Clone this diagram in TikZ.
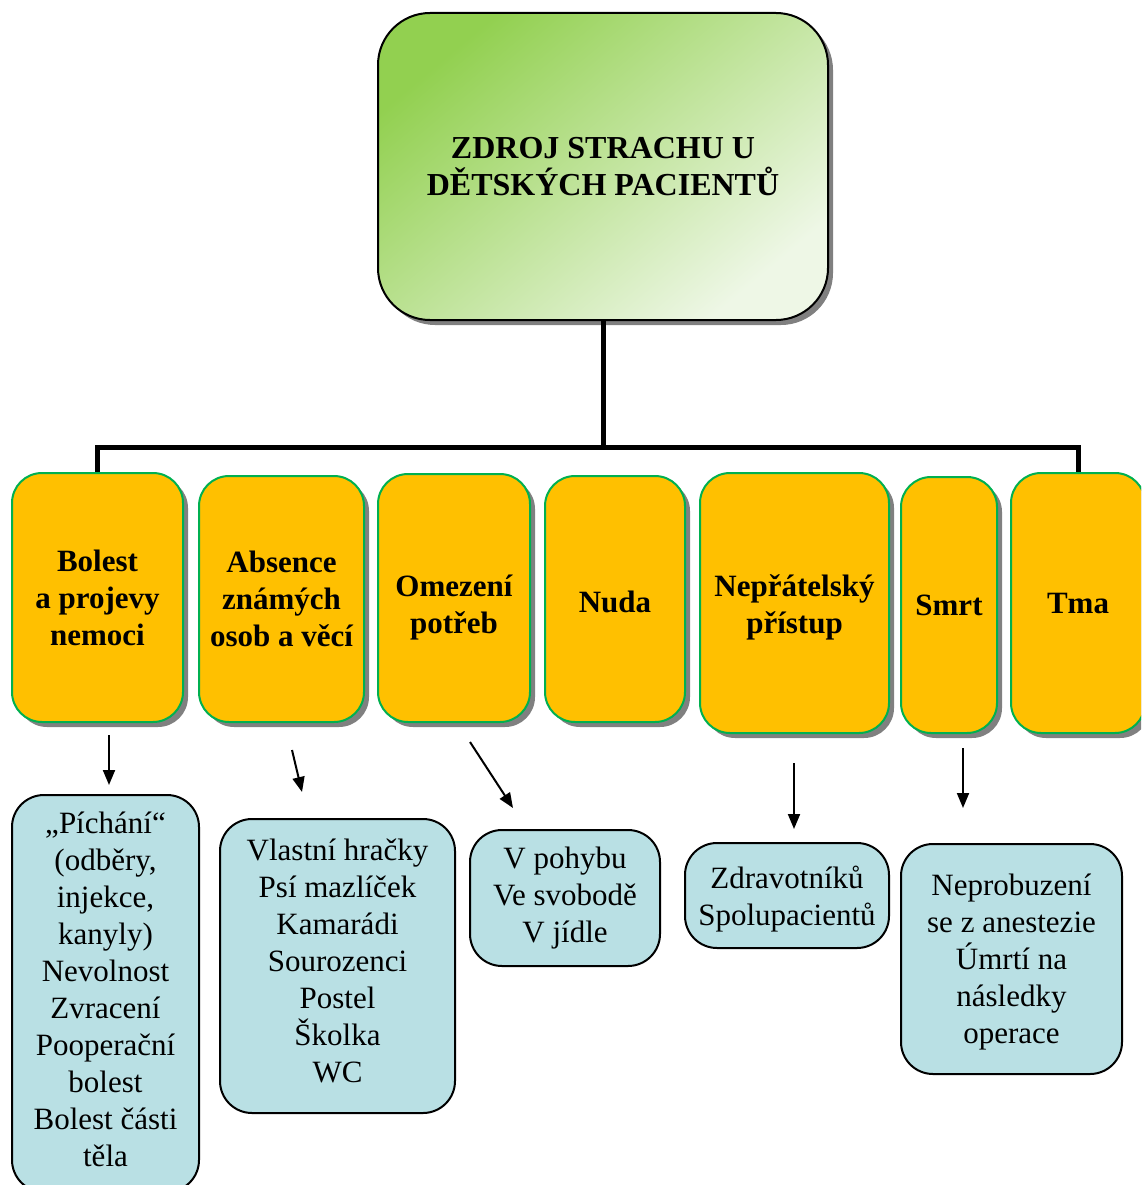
\documentclass[tikz,border=0pt]{standalone}
\usepackage{fontspec}
\setmainfont{Liberation Serif}
\usetikzlibrary{shadows,arrows.meta}
\definecolor{boxorange}{HTML}{FFC000}
\definecolor{boxgreen}{HTML}{00B050}
\definecolor{boxblue}{HTML}{B9E0E4}
\definecolor{titlegreen}{HTML}{92D050}
\definecolor{titlelight}{HTML}{EEF7E6}
\tikzset{
  shadowed/.style={drop shadow={shadow xshift=5pt,shadow yshift=-5pt,opacity=1,fill=black!50}},
  titlebox/.style={draw=black,line width=2pt,rounded corners=52pt,shadowed,
    top color=titlegreen,bottom color=titlelight,shading angle=40,
    inner sep=0pt,align=center,font=\fontsize{32}{37}\selectfont\bfseries},
  causetext/.style={inner sep=0pt,align=center,font=\fontsize{31}{37}\selectfont\bfseries},
  causebox/.style={causetext,draw=boxgreen,line width=2pt,fill=boxorange,rounded corners=30pt,shadowed},
  itemtext/.style={inner sep=0pt,align=center,font=\fontsize{31}{37}\selectfont},
  itembox/.style={itemtext,draw=black,line width=2pt,fill=boxblue,rounded corners=32pt},
  tree/.style={line width=5pt},
  pointer/.style={line width=2pt,-{Triangle[length=15pt,width=12pt]}}
}
\begin{document}
\begin{tikzpicture}[x=1pt,y=-1pt]
\useasboundingbox (0,0) rectangle (1141,1185);
\clip (0,0) rectangle (1141,1185);

% root
\node[titlebox,minimum width=450pt,minimum height=307pt] (root) at (603,166.5)
  {ZDROJ STRACHU U\\DĚTSKÝCH PACIENTŮ};

% sources of fear
\node[causebox,minimum width=171pt,minimum height=249pt] (b1) at (97.5,597.5) {Bolest\\a projevy\\nemoci};
\node[causebox,minimum width=165pt,minimum height=246pt] (b2) at (281.5,599) {Absence\\známých\\osob a věcí};
\node[causebox,minimum width=152pt,minimum height=248pt] (b3) at (454,598) {};
\node[causetext] (t3) at ([yshift=-10pt]b3.center) {Omezení\\potřeb};
\node[causebox,minimum width=140pt,minimum height=246pt] (b4) at (615,599) {};
\node[causetext] (t4) at ([yshift=-3pt]b4.center) {Nuda};
\node[causebox,minimum width=189pt,minimum height=260pt] (b5) at (794.5,603) {};
\node[causetext] (t5) at ([yshift=-4pt]b5.center) {Nepřátelský\\přístup};
\node[causebox,minimum width=96pt,minimum height=256pt] (b6) at (949,605) {Smrt};
\node[causebox,minimum width=134pt,minimum height=260pt] (b7) at (1078,603) {Tma};

% tree connectors
\coordinate (joint) at (603,447);
\draw[tree] (root.south) -- (joint);
\draw[tree] (b1.north) |- (joint) -| (b7.north);

% details
\node[itembox,minimum width=187pt,minimum height=397pt] (c1) at (105.5,993.5) {};
\node[itemtext] (d1) at ([yshift=4pt]c1.center)
  {„Píchání“\\(odběry,\\injekce,\\kanyly)\\Nevolnost\\Zvracení\\Pooperační\\bolest\\Bolest části\\těla};
\node[itembox,minimum width=235pt,minimum height=294pt] (c2) at (337.5,966) {};
\node[itemtext] (d2) at ([yshift=5pt]c2.center)
  {Vlastní hračky\\Psí mazlíček\\Kamarádi\\Sourozenci\\Postel\\Školka\\WC};
\node[itembox,minimum width=190pt,minimum height=136pt] (c3) at (565,898)
  {V pohybu\\Ve svobodě\\V jídle};
\node[itembox,minimum width=204pt,minimum height=105pt] (c4) at (787,895.5) {};
\node[itemtext] (d4) at ([yshift=-4pt]c4.center) {Zdravotníků\\Spolupacientů};
\node[itembox,minimum width=221pt,minimum height=230pt] (c5) at (1011.5,959) {};
\node[itemtext] (d5) at ([yshift=-3pt]c5.center)
  {Neprobuzení\\se z anestezie\\Úmrtí na\\následky\\operace};

% free-standing pointers
\coordinate (p1s) at (109,735);  \coordinate (p1e) at (109,785);
\coordinate (p2s) at (292,750);  \coordinate (p2e) at (302,792);
\coordinate (p3s) at (470,742);  \coordinate (p3e) at (513,808);
\coordinate (p4s) at (794,763);  \coordinate (p4e) at (794,829);
\coordinate (p5s) at (963,748);  \coordinate (p5e) at (963,808);
\draw[pointer] (p1s) -- (p1e);
\draw[pointer] (p2s) -- (p2e);
\draw[pointer] (p3s) -- (p3e);
\draw[pointer] (p4s) -- (p4e);
\draw[pointer] (p5s) -- (p5e);
\end{tikzpicture}
\end{document}
